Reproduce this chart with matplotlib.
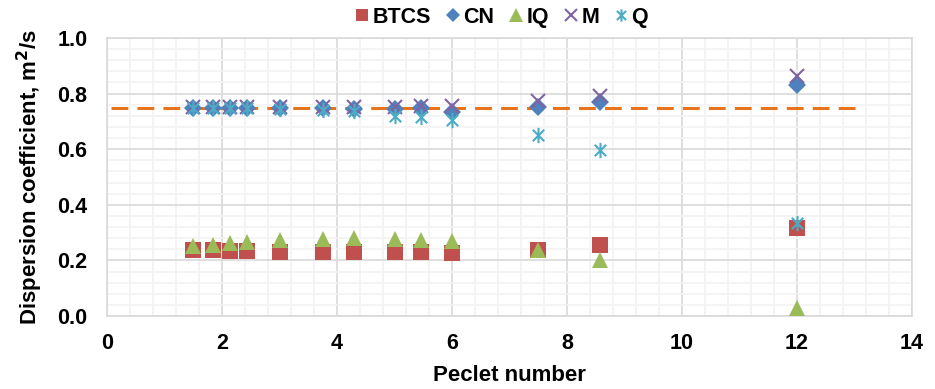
import numpy as np
import matplotlib.pyplot as plt
from matplotlib.path import Path
from matplotlib.ticker import MultipleLocator

plt.rcParams['font.family'] = ['Liberation Sans', 'DejaVu Sans']
plt.rcParams['font.weight'] = 'bold'

# Peclet numbers of the runs
peclet = [1.5, 1.84, 2.14, 2.43, 3.0, 3.75, 4.29, 5.0, 5.46, 6.0, 7.5, 8.57, 12.0]

# dispersion coefficient per scheme, m2/s
btcs = [0.237, 0.236, 0.234, 0.233, 0.232, 0.231, 0.231, 0.230, 0.229, 0.228, 0.239, 0.255, 0.317]
cn   = [0.750, 0.750, 0.750, 0.750, 0.749, 0.748, 0.746, 0.745, 0.750, 0.733, 0.751, 0.769, 0.832]
iq   = [0.251, 0.257, 0.263, 0.266, 0.273, 0.277, 0.279, 0.277, 0.273, 0.269, 0.239, 0.203, 0.030]
m    = [0.751, 0.751, 0.751, 0.751, 0.751, 0.751, 0.751, 0.752, 0.754, 0.757, 0.775, 0.793, 0.862]
q    = [0.749, 0.749, 0.749, 0.748, 0.746, 0.742, 0.738, 0.721, 0.715, 0.704, 0.651, 0.597, 0.335]

d_true = 0.75
line_x = [0.07, 13.1]

# asterisk: vertical bar plus an x
star = Path([(0, -1), (0, 1), (-0.75, -0.75), (0.75, 0.75), (-0.75, 0.75), (0.75, -0.75)],
            [Path.MOVETO, Path.LINETO, Path.MOVETO, Path.LINETO, Path.MOVETO, Path.LINETO])

fig = plt.figure(figsize=(9.35, 3.89), dpi=100)
ax = fig.add_axes([107/935, 1 - 316/389, 805/935, 278/389])

ax.plot(line_x, [d_true, d_true], ls=(0, (5.5, 3)), color='#E8731A', lw=2.2, zorder=2)

ax.plot(peclet, btcs, 's', ms=11, color='#C0504D', mew=0, label='BTCS', zorder=3)
ax.plot(peclet, cn, 'D', ms=9.5, color='#4F81BD', mew=0, label='CN', zorder=3)
ax.plot(peclet, iq, '^', ms=12, color='#9BBB59', mew=0, label='IQ', zorder=3)
ax.plot(peclet, m, 'x', ms=10, color='#8064A2', mew=1.5, label='M', zorder=3)
ax.plot(peclet, q, marker=star, ls='none', ms=11, color='#4BACC6', mew=1.5, label='Q', zorder=3)

ax.set_xlim(0, 14)
ax.set_ylim(0, 1.0)
ax.xaxis.set_major_locator(MultipleLocator(2))
ax.xaxis.set_minor_locator(MultipleLocator(0.4))
ax.yaxis.set_major_locator(MultipleLocator(0.2))
ax.yaxis.set_minor_locator(MultipleLocator(0.04))
ax.yaxis.set_major_formatter(plt.FormatStrFormatter('%.1f'))

ax.grid(which='minor', color='#F2F2F2', lw=1.2, zorder=0)
ax.grid(which='major', color='#D9D9D9', lw=1.2, zorder=1)
ax.set_axisbelow(True)
for s in ax.spines.values():
    s.set_color('#D9D9D9')
    s.set_linewidth(1.2)
ax.tick_params(which='both', length=0, labelsize=15.5)
ax.tick_params(axis='y', pad=14)
ax.tick_params(axis='x', pad=12)

ax.set_xlabel('Peclet number', fontsize=16, fontweight='bold', labelpad=8)
ax.set_ylabel('Dispersion coefficient, m$^\\mathbf{2}$/s', fontsize=16, fontweight='bold', labelpad=9)

fig.legend(loc='center', bbox_to_anchor=(0.535, 0.955), ncol=5, frameon=False,
           handletextpad=0.05, columnspacing=0.55, handlelength=0.9, markerscale=0.8,
           prop={'weight': 'bold', 'size': 15.5})

fig.savefig('out.png', dpi=100)
